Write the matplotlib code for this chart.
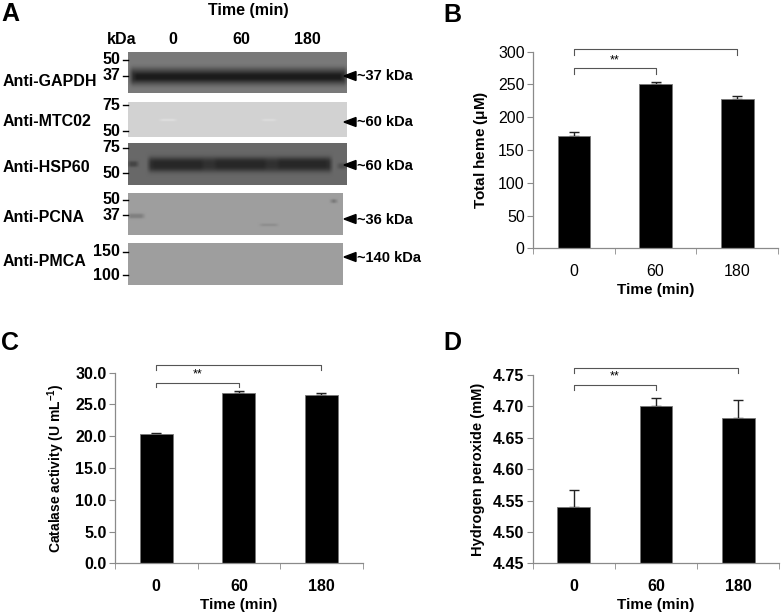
import numpy as np
import matplotlib.pyplot as plt
from matplotlib.patches import Polygon

plt.rcParams['font.family'] = ['Liberation Sans', 'DejaVu Sans']

# ---- data ----
times = ['0', '60', '180']
heme = [172, 251, 228]
heme_err = [5, 2.5, 5]
catalase = [20.3, 26.85, 26.5]
catalase_err = [0.15, 0.2, 0.3]
h2o2 = [4.540, 4.700, 4.681]
h2o2_err = [0.026, 0.014, 0.029]

blot_names = ['Anti-GAPDH', 'Anti-MTC02', 'Anti-HSP60', 'Anti-PCNA', 'Anti-PMCA']
marker_labels = [['50', '37'], ['75', '50'], ['75', '50'], ['50', '37'], ['150', '100']]
band_labels = ['~37 kDa', '~60 kDa', '~60 kDa', '~36 kDa', '~140 kDa']

W, H = 782, 612
fig = plt.figure(figsize=(W / 100, H / 100), dpi=100)

# ---- panel A : blot drawn in pixel coords ----
axA = fig.add_axes([0, 0, 1, 1])
axA.set_xlim(0, W)
axA.set_ylim(H, 0)
axA.axis('off')

strip_y = [(52, 93), (102, 137), (143, 185), (193, 235), (243, 285)]
strip_x1 = [347, 347, 347, 343, 343]
marker_y = [(60, 76), (105, 131), (148, 173), (200, 215), (252, 275)]
arrow_y = [76, 122, 165, 219, 257]
label_y = [82, 122, 167, 218, 262]
bg_gray = [122, 210, 104, 158, 158]
# smudges on each strip: (y center, half height, depth, x start, x end)
bands = [
    [(76.5, 8.5, 70, 128, 349), (77, 4, 25, 132, 345)],
    [(120, 1.2, -12, 158, 178), (120, 1.2, -10, 260, 278)],
    [(164.5, 7.5, 55, 146, 334), (165, 6, 10, 150, 205), (164, 6, 10, 213, 268),
     (163.5, 6, 10, 276, 330), (164, 3, 35, 126, 140), (166, 3, 25, 336, 349)],
    [(216, 2.5, 30, 126, 146), (201, 2, 40, 329, 339), (225, 1.5, 15, 258, 280)],
    [],
]

x0 = 128
for i in range(5):
    y0, y1 = strip_y[i]
    x1 = strip_x1[i]
    yy = np.linspace(y0, y1, (y1 - y0) * 3)
    xx = np.linspace(x0, x1, (x1 - x0) * 3)
    img = np.full((len(yy), len(xx)), float(bg_gray[i]))
    for (yc, hw, depth, xa, xb) in bands[i]:
        prof = np.exp(-(np.abs(yy - yc) / hw) ** 3)
        lane = np.clip((xx - xa) / 5, 0, 1) * np.clip((xb - xx) / 5, 0, 1)
        img -= depth * prof[:, None] * lane[None, :]
    axA.imshow(np.clip(img, 0, 255), cmap='gray', vmin=0, vmax=255, extent=(x0, x1, y1, y0),
               interpolation='bilinear', aspect='auto')
    for lab, my in zip(marker_labels[i], marker_y[i]):
        axA.plot([123, 128], [my, my], color='black', lw=1)
        axA.text(120, my, lab, ha='right', va='center', fontsize=11.5, fontweight='bold')
    axA.text(3, label_y[i], blot_names[i], ha='left', va='center', fontsize=11.5, fontweight='bold')
    ay = arrow_y[i]
    axA.add_patch(Polygon([[344, ay], [356, ay - 4.5], [356, ay + 4.5]], closed=True,
                          color='black'))
    axA.text(357, ay + 0.5, band_labels[i], ha='left', va='center', fontsize=10.5, fontweight='bold')

axA.text(248, 10, 'Time (min)', ha='center', va='center', fontsize=11.5, fontweight='bold')
for lab, lx in zip(['kDa', '0', '60', '180'], [122, 173, 241, 307]):
    axA.text(lx, 39, lab, ha='center', va='center', fontsize=11.5, fontweight='bold')

for letter, (lx, ly) in zip('ABCD', [(10, 14), (452, 15), (10, 343), (452, 343)]):
    axA.text(lx, ly, letter, ha='center', va='center', fontsize=18, fontweight='bold')


# ---- bar panels ----
def bar_panel(rect, vals, errs, ylim, yticks, fmt, ylabel, bold, brackets, ylsize):
    ax = fig.add_axes(rect)
    ax.set_facecolor('none')
    x = np.arange(len(times))
    ax.bar(x, vals, width=0.4, color='black', edgecolor='#777777', linewidth=0.6, zorder=2)
    ax.errorbar(x, vals, yerr=[np.zeros(len(errs)), errs], fmt='none', ecolor='#222222',
                elinewidth=1, capsize=3.5, capthick=1, zorder=1)
    ax.set_xlim(-0.5, 2.5)
    ax.set_ylim(*ylim)
    ax.set_yticks(yticks)
    ax.set_yticklabels([fmt % v for v in yticks])
    ax.set_xticks(x)
    ax.set_xticklabels(times)
    ax.set_xticks([-0.5, 0.5, 1.5, 2.5], minor=True)
    for s in ['top', 'right']:
        ax.spines[s].set_visible(False)
    for s in ['left', 'bottom']:
        ax.spines[s].set_color('#8a8a8a')
        ax.spines[s].set_linewidth(0.9)
    w = 'bold' if bold else 'normal'
    ax.tick_params(axis='x', which='major', length=0, pad=11, labelsize=11.5)
    ax.tick_params(axis='x', which='minor', length=4, color='#8a8a8a', direction='out')
    ax.tick_params(axis='y', length=4, color='#8a8a8a', direction='out', labelsize=11.5, pad=2)
    for t in ax.get_xticklabels() + ax.get_yticklabels():
        t.set_fontweight(w)
    ax.set_xlabel('Time (min)', fontsize=11, fontweight='bold', labelpad=3)
    ax.set_ylabel(ylabel, fontsize=ylsize, fontweight='bold', labelpad=6)
    for (a, b, top, drop) in brackets:
        ax.plot([a, a, b, b], [top - drop, top, top, top - drop], color='#555555',
                lw=0.8, clip_on=False)
        ax.annotate('**', xy=((a + b) / 2, top), xytext=(0, 6), textcoords='offset points',
                    ha='center', va='center', fontsize=9)
    return ax


bar_panel([533 / W, 1 - 248.3 / H, 245 / W, 196.6 / H], heme, heme_err, (0, 300),
          [0, 50, 100, 150, 200, 250, 300], '%d', r'Total heme ($\mathregular{\mu}$M)', False,
          [(0, 1, 274.7, 8.7), (0, 2, 304.5, 9.5)], 11)

bar_panel([115 / W, 1 - 563.3 / H, 247.7 / W, 190.6 / H], catalase, catalase_err, (0, 30),
          [0, 5, 10, 15, 20, 25, 30], '%.1f', r'Catalase activity (U mL$^{\mathregular{-1}}$)', True,
          [(0, 1, 28.4, 0.7), (0, 2, 31.2, 0.8)], 10)

bar_panel([532.7 / W, 1 - 563.3 / H, 246.6 / W, 188.3 / H], h2o2, h2o2_err, (4.45, 4.75),
          [4.45, 4.50, 4.55, 4.60, 4.65, 4.70, 4.75], '%.2f', 'Hydrogen peroxide (mM)', True,
          [(0, 1, 4.734, 0.008), (0, 2, 4.761, 0.008)], 10.5)

fig.savefig('out.png', dpi=100)
